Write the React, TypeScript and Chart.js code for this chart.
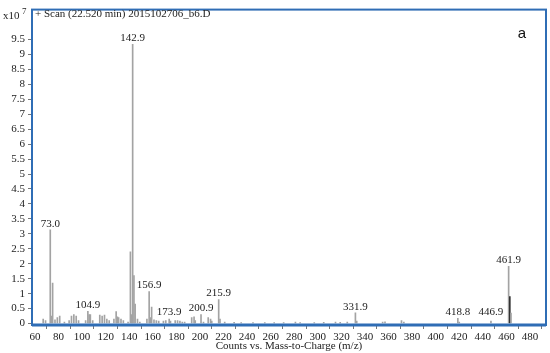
import { useEffect, useRef } from 'react';
import { Chart, registerables } from 'chart.js';

Chart.register(...registerables);

// m/z of each stick (x10^7 counts in intensities)
const mzValues = [
  67, 69, 73.0, 74, 75, 77, 79, 81, 85, 89, 91, 93, 95, 97, 103, 104.9, 106, 107, 109,
  115, 117, 119, 121, 123, 127, 128.9, 130, 131, 133, 135, 139, 141, 142, 142.9, 144, 145,
  147, 149, 155, 156.9, 158, 159, 161, 163, 165, 169, 171, 173.9, 175, 179, 181, 183, 185,
  187, 193, 195, 196, 200.9, 203, 207, 209, 210, 215.9, 217, 221, 229, 235, 245, 255, 263,
  271, 281, 285, 297, 305, 315, 319, 325, 331.9, 333, 355, 357, 371, 373, 418.8, 420,
  446.9, 461.9, 462.9, 463.9,
];
const intensities = [
  0.15, 0.1, 3.13, 0.25, 1.35, 0.12, 0.2, 0.25, 0.05, 0.1, 0.25, 0.3, 0.25, 0.1, 0.1, 0.41, 0.3, 0.3, 0.1,
  0.28, 0.25, 0.28, 0.15, 0.1, 0.15, 0.4, 0.22, 0.2, 0.15, 0.1, 0.05, 2.4, 0.3, 9.34, 1.6, 0.65,
  0.15, 0.05, 0.15, 1.07, 0.2, 0.55, 0.12, 0.1, 0.08, 0.08, 0.1, 0.15, 0.08, 0.1, 0.1, 0.08, 0.05,
  0.05, 0.2, 0.22, 0.1, 0.3, 0.05, 0.2, 0.15, 0.08, 0.8, 0.15, 0.05, 0.04, 0.03, 0.03, 0.03, 0.03,
  0.03, 0.05, 0.03, 0.03, 0.04, 0.05, 0.04, 0.05, 0.36, 0.08, 0.05, 0.06, 0.1, 0.05, 0.17, 0.05,
  0.08, 1.91, 0.9, 0.35,
];
const darkPeaks = [462.9];
const labelledPeaks = [73.0, 104.9, 142.9, 156.9, 173.9, 200.9, 215.9, 331.9, 418.8, 446.9, 461.9];
const xTickValues = [60, 80, 100, 120, 140, 160, 180, 200, 220, 240, 260, 280, 300, 320, 340, 360, 380, 400, 420, 440, 460, 480];
const yTickValues = [0, 0.5, 1, 1.5, 2, 2.5, 3, 3.5, 4, 4.5, 5, 5.5, 6, 6.5, 7, 7.5, 8, 8.5, 9, 9.5];
const titleText = '+ Scan (22.520 min) 2015102706_b6.D';
const xAxisTitle = 'Counts vs. Mass-to-Charge (m/z)';
const yExponentBase = 'x10';
const yExponent = '7';
const panelLetter = 'a';

const FONT = '"Liberation Serif", serif';
const BLUE = '#2f6db5';

export default function App() {
  const ref = useRef<HTMLCanvasElement | null>(null);

  useEffect(() => {
    const canvas = ref.current;
    if (!canvas) return;

    const overlay = {
      id: 'overlay',
      afterDatasetsDraw(chart: any) {
        const { ctx, chartArea: a, scales } = chart;
        const xs = scales.x;
        const ys = scales.y;
        ctx.save();
        // peak labels
        ctx.fillStyle = '#222';
        ctx.font = `11px ${FONT}`;
        ctx.textAlign = 'center';
        ctx.textBaseline = 'middle';
        const zeroPx = ys.getPixelForValue(0);
        labelledPeaks.forEach((mz) => {
          const i = mzValues.indexOf(mz);
          if (i < 0) return;
          const top = ys.getPixelForValue(intensities[i]);
          const y = Math.min(top - 6, zeroPx - 11);
          ctx.fillText(mz.toFixed(1), xs.getPixelForValue(mz), y);
        });
        // border
        ctx.strokeStyle = BLUE;
        ctx.lineWidth = 2;
        ctx.strokeRect(a.left, a.top, a.right - a.left, a.bottom - a.top);
        ctx.lineWidth = 3;
        ctx.beginPath();
        ctx.moveTo(a.left, a.bottom);
        ctx.lineTo(a.right, a.bottom);
        ctx.stroke();
        // title
        ctx.fillStyle = '#222';
        ctx.textAlign = 'left';
        ctx.font = `11px ${FONT}`;
        ctx.fillText(titleText, a.left + 3, 14);
        // exponent
        ctx.font = `11px ${FONT}`;
        ctx.fillText(yExponentBase, 3, 16);
        ctx.font = `9px ${FONT}`;
        ctx.fillText(yExponent, 22, 12);
        // x axis title
        ctx.textAlign = 'center';
        ctx.font = `11px ${FONT}`;
        ctx.fillText(xAxisTitle, (a.left + a.right) / 2, 346);
        // panel letter
        ctx.font = '15px "Liberation Sans", sans-serif';
        ctx.fillStyle = '#111';
        ctx.fillText(panelLetter, 522, 34);
        ctx.restore();
      },
    };

    const chart = new Chart(canvas, {
      type: 'bar',
      data: {
        datasets: [
          {
            data: mzValues.map((x, i) => ({ x, y: intensities[i] })),
            backgroundColor: mzValues.map((m) => (darkPeaks.includes(m) ? '#333333' : '#a3a3a3')),
            barThickness: 1,
            borderWidth: 0,
          },
        ],
      },
      options: {
        responsive: false,
        animation: false,
        layout: { padding: { top: 3, right: 4, left: 0, bottom: 0 } },
        plugins: { legend: { display: false }, tooltip: { enabled: false }, title: { display: false } },
        scales: {
          x: {
            type: 'linear',
            min: 57.5,
            max: 493.6,
            offset: false,
            afterFit: (s: any) => {
              s.height = 28;
            },
            afterBuildTicks: (s: any) => {
              s.ticks = xTickValues.map((v) => ({ value: v }));
            },
            ticks: {
              autoSkip: false,
              maxRotation: 0,
              padding: 2,
              color: '#222',
              font: { family: FONT, size: 11 },
              callback: (v: any) => String(v),
            },
            grid: { drawOnChartArea: false, drawTicks: true, tickLength: 4, color: '#777' },
            border: { display: false },
          },
          y: {
            type: 'linear',
            min: -0.05,
            max: 10.5,
            afterFit: (s: any) => {
              s.width = 32;
            },
            afterBuildTicks: (s: any) => {
              s.ticks = yTickValues.map((v) => ({ value: v }));
            },
            ticks: {
              autoSkip: false,
              padding: 3,
              color: '#222',
              font: { family: FONT, size: 11 },
              callback: (v: any) => String(v),
            },
            grid: { drawOnChartArea: false, drawTicks: true, tickLength: 4, color: '#777' },
            border: { display: false },
          },
        },
      },
      plugins: [overlay],
    } as any);

    return () => chart.destroy();
  }, []);

  return (
    <div style={{ position: 'absolute', left: 0, top: 0, width: 550, height: 353, background: '#fff' }}>
      <canvas ref={ref} width={550} height={353} style={{ width: 550, height: 353, display: 'block' }} />
    </div>
  );
}
